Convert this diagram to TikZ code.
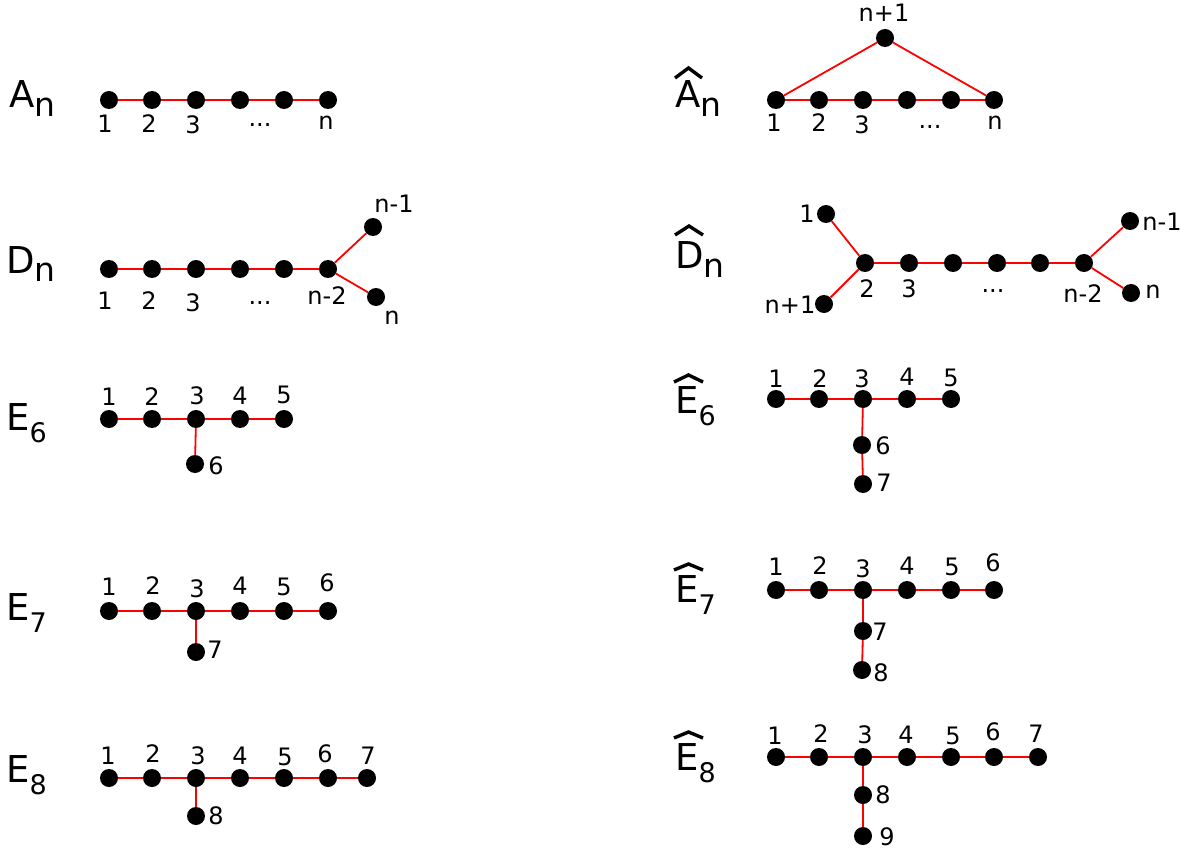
\documentclass[tikz,border=0pt]{standalone}
\usepackage{fontspec}
\setmainfont{DejaVu Sans}
\tikzset{
  dt/.style={circle,fill=black,inner sep=0pt,minimum width=18pt,minimum height=17pt},
  lb/.style={inner sep=0pt,font=\fontsize{24}{24}\selectfont},
  ttl/.style={inner sep=0pt,anchor=base west,font=\fontsize{37}{37}\selectfont},
  edge/.style={red,line width=1.8pt},
  hat/.style={black,line width=3.4pt,line join=miter}
}
\newcommand\Dt[3]{\node[dt] (#1) at (#2,#3) {};}
\newcommand\Lb[4]{\node[lb] (#1) at (#2,#3) {#4};}
\newcommand\SubN{\raisebox{-9pt}{\fontsize{33}{33}\selectfont n}}
\newcommand\SubD[1]{\raisebox{-12pt}{\fontsize{27}{27}\selectfont #1}}
\begin{document}
\begin{tikzpicture}[x=1pt,y=-1pt]
\useasboundingbox (0,0) rectangle (1188,850);
% ---------- A_n
\node[ttl] (tA) at (9,108) {A\SubN};
\Dt{a1}{109}{100}\Dt{a2}{152}{100}\Dt{a3}{196}{100}\Dt{a4}{240}{100}\Dt{a5}{284}{100}\Dt{a6}{328}{100}
\foreach \u/\v in {a1/a2,a2/a3,a3/a4,a4/a5,a5/a6} \draw[edge] (\u)--(\v);
\Lb{la1}{105}{123.5}{1}\Lb{la2}{149}{123.5}{2}\Lb{la3}{193}{125}{3}\Lb{la4}{260}{125}{...}\Lb{la6}{326}{123}{n}
% ---------- hat A_n
\node[ttl] (tAh) at (675,108) {A\SubN};
\draw[hat] (675,78) -- (688.5,68) -- (702,78);
\Dt{b1}{776}{100}\Dt{b2}{819}{100}\Dt{b3}{863}{100}\Dt{b4}{907}{100}\Dt{b5}{951}{100}\Dt{b6}{994}{100}\Dt{b7}{885}{38}
\foreach \u/\v in {b1/b2,b2/b3,b3/b4,b4/b5,b5/b6,b1/b7,b7/b6} \draw[edge] (\u)--(\v);
\Lb{lb1}{774}{123}{1}\Lb{lb2}{819}{123}{2}\Lb{lb3}{862}{125}{3}\Lb{lb4}{930}{127}{...}\Lb{lb6}{995}{123}{n}\Lb{lb7}{884}{13}{n+1}
% ---------- D_n
\node[ttl] (tD) at (6,273) {D\SubN};
\Dt{d1}{109}{269}\Dt{d2}{152}{269}\Dt{d3}{196}{269}\Dt{d4}{240}{269}\Dt{d5}{284}{269}\Dt{d6}{328}{269}\Dt{d7}{373}{227}\Dt{d8}{376}{297}
\foreach \u/\v in {d1/d2,d2/d3,d3/d4,d4/d5,d5/d6,d6/d7,d6/d8} \draw[edge] (\u)--(\v);
\Lb{ld1}{105}{301}{1}\Lb{ld2}{149}{301}{2}\Lb{ld3}{193}{303}{3}\Lb{ld4}{260}{303}{...}\Lb{ld6}{327}{296}{n-2}\Lb{ld7}{394}{204}{n-1}\Lb{ld8}{392}{318}{n}
% ---------- hat D_n
\node[ttl] (tDh) at (675,269) {D\SubN};
\draw[hat] (675,235) -- (689,226) -- (703,235);
\Dt{e1}{826}{214}\Dt{e2}{865}{263}\Dt{e3}{909}{263}\Dt{e4}{953}{263}\Dt{e5}{997}{263}\Dt{e6}{1040}{263}\Dt{e7}{1084}{263}\Dt{e8}{1130}{221}\Dt{e9}{1131}{293}\Dt{e10}{824}{304}
\foreach \u/\v in {e1/e2,e10/e2,e2/e3,e3/e4,e4/e5,e5/e6,e6/e7,e7/e8,e7/e9} \draw[edge] (\u)--(\v);
\Lb{le1}{807}{214}{1}\Lb{le10}{790}{305}{n+1}\Lb{le2}{867}{289}{2}\Lb{le3}{909}{289}{3}\Lb{le5}{993}{291}{...}\Lb{le7}{1083}{294}{n-2}\Lb{le8}{1162}{222}{n-1}\Lb{le9}{1153}{292}{n}
% ---------- E6
\node[ttl] (tE6) at (6,430) {E\SubD{6}};
\Dt{f1}{109}{419}\Dt{f2}{152}{419}\Dt{f3}{196}{419}\Dt{f4}{240}{419}\Dt{f5}{284}{419}\Dt{f6}{195}{464}
\foreach \u/\v in {f1/f2,f2/f3,f3/f4,f4/f5,f3/f6} \draw[edge] (\u)--(\v);
\Lb{lf1}{109}{397}{1}\Lb{lf2}{152}{397}{2}\Lb{lf3}{197}{396}{3}\Lb{lf4}{240}{396}{4}\Lb{lf5}{284}{395}{5}\Lb{lf6}{216}{466}{6}
% ---------- hat E6
\node[ttl] (tE6h) at (675,413) {E\SubD{6}};
\draw[hat] (674,382) -- (688.5,375) -- (703,382);
\Dt{g1}{776}{399}\Dt{g2}{819}{399}\Dt{g3}{863}{399}\Dt{g4}{907}{399}\Dt{g5}{951}{399}\Dt{g6}{862}{445}\Dt{g7}{863}{484}
\foreach \u/\v in {g1/g2,g2/g3,g3/g4,g4/g5,g3/g6,g6/g7} \draw[edge] (\u)--(\v);
\Lb{lg1}{776}{379}{1}\Lb{lg2}{820}{379}{2}\Lb{lg3}{862}{379}{3}\Lb{lg4}{907}{377}{4}\Lb{lg5}{951}{378}{5}\Lb{lg6}{883}{446}{6}\Lb{lg7}{884}{483}{7}
% ---------- E7
\node[ttl] (tE7) at (6,620) {E\SubD{7}};
\Dt{h1}{109}{611}\Dt{h2}{152}{611}\Dt{h3}{196}{611}\Dt{h4}{240}{611}\Dt{h5}{284}{611}\Dt{h6}{328}{611}\Dt{h7}{196}{652}
\foreach \u/\v in {h1/h2,h2/h3,h3/h4,h4/h5,h5/h6,h3/h7} \draw[edge] (\u)--(\v);
\Lb{lh1}{109}{587}{1}\Lb{lh2}{153}{586}{2}\Lb{lh3}{197}{589}{3}\Lb{lh4}{240}{586}{4}\Lb{lh5}{284}{587}{5}\Lb{lh6}{327}{583}{6}\Lb{lh7}{215}{650}{7}
% ---------- hat E7
\node[ttl] (tE7h) at (675,602) {E\SubD{7}};
\draw[hat] (674,570) -- (688.5,564) -- (703,570);
\Dt{i1}{776}{590}\Dt{i2}{819}{590}\Dt{i3}{863}{590}\Dt{i4}{907}{590}\Dt{i5}{951}{590}\Dt{i6}{994}{590}\Dt{i7}{863}{631}\Dt{i8}{862}{670}
\foreach \u/\v in {i1/i2,i2/i3,i3/i4,i4/i5,i5/i6,i3/i7,i7/i8} \draw[edge] (\u)--(\v);
\Lb{li1}{776}{567}{1}\Lb{li2}{820}{566}{2}\Lb{li3}{863}{569}{3}\Lb{li4}{907}{566}{4}\Lb{li5}{952}{567}{5}\Lb{li6}{993}{563}{6}\Lb{li7}{880}{632}{7}\Lb{li8}{881}{673}{8}
% ---------- E8
\node[ttl] (tE8) at (6,782) {E\SubD{8}};
\Dt{j1}{109}{778}\Dt{j2}{152}{778}\Dt{j3}{196}{778}\Dt{j4}{240}{778}\Dt{j5}{284}{778}\Dt{j6}{328}{778}\Dt{j7}{367}{778}\Dt{j8}{196}{816}
\foreach \u/\v in {j1/j2,j2/j3,j3/j4,j4/j5,j5/j6,j6/j7,j3/j8} \draw[edge] (\u)--(\v);
\Lb{lj1}{108}{756}{1}\Lb{lj2}{153}{754}{2}\Lb{lj3}{198}{756}{3}\Lb{lj4}{240}{756}{4}\Lb{lj5}{285}{757}{5}\Lb{lj6}{325}{754}{6}\Lb{lj7}{368}{756}{7}\Lb{lj8}{216}{816}{8}
% ---------- hat E8
\node[ttl] (tE8h) at (675,770) {E\SubD{8}};
\draw[hat] (674,738) -- (688.5,732) -- (703,738);
\Dt{k1}{776}{757}\Dt{k2}{819}{757}\Dt{k3}{863}{757}\Dt{k4}{907}{757}\Dt{k5}{951}{757}\Dt{k6}{994}{757}\Dt{k7}{1038}{757}\Dt{k8}{863}{795}\Dt{k9}{863}{836}
\foreach \u/\v in {k1/k2,k2/k3,k3/k4,k4/k5,k5/k6,k6/k7,k3/k8,k8/k9} \draw[edge] (\u)--(\v);
\Lb{lk1}{775}{736}{1}\Lb{lk2}{821}{734}{2}\Lb{lk3}{865}{735}{3}\Lb{lk4}{906}{735}{4}\Lb{lk5}{953}{736}{5}\Lb{lk6}{993}{732}{6}\Lb{lk7}{1036}{734}{7}\Lb{lk8}{883}{795}{8}\Lb{lk9}{887}{837}{9}
\end{tikzpicture}
\end{document}
